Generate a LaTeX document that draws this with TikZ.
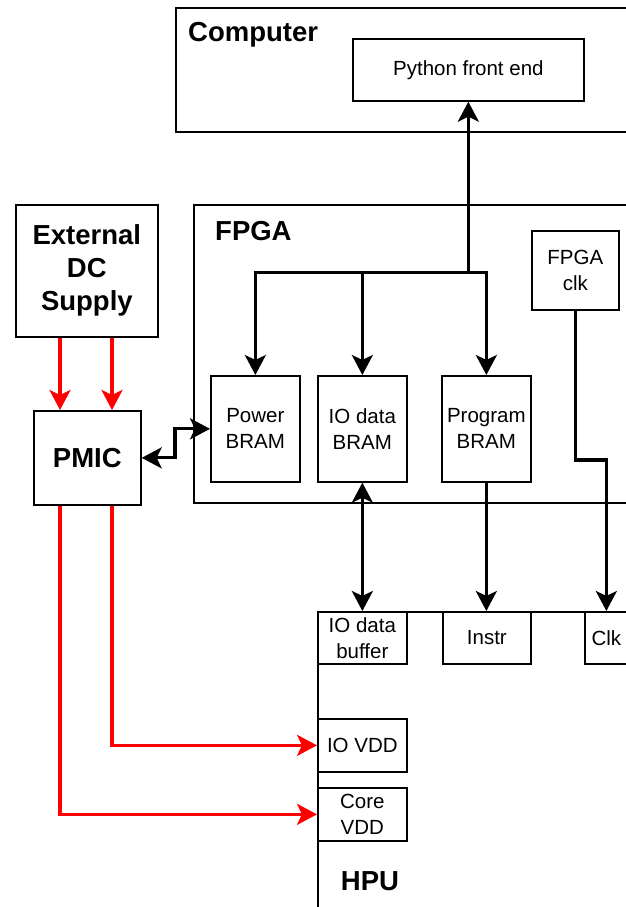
\documentclass[tikz,border=0pt]{standalone}
\usepackage{fontspec}
\setmainfont{Liberation Sans}
\usetikzlibrary{arrows.meta}
\tikzset{
  blk/.style={draw, line width=1.7pt, inner sep=0pt, align=center, anchor=north west,
    font=\fontsize{20.5}{26}\selectfont},
  title/.style={inner sep=0pt, font=\bfseries\fontsize{27.5}{33}\selectfont, align=center},
  arr/.style={line width=3.2pt, -{Stealth[length=20pt,width=21pt,inset=5pt]}},
  darr/.style={line width=3.2pt, {Stealth[length=20pt,width=21pt,inset=5pt]}-{Stealth[length=20pt,width=21pt,inset=5pt]}},
  rarr/.style={line width=3.2pt, color=red, -{Stealth[length=20pt,width=21pt,inset=5pt]}},
}
\begin{document}
\begin{tikzpicture}[x=1pt,y=-1pt]
\clip (0,0) rectangle (626,907);
\fill[white] (0,0) rectangle (626,907);

% containers
\node[blk, minimum width=500pt, minimum height=124pt] (computer) at (175,7) {};
\node[title, anchor=base west] (computerlbl) at (188,42) {Computer};
\node[blk, minimum width=480pt, minimum height=298pt] (fpga) at (193,204) {};
\node[title, anchor=base west] (fpgalbl) at (215,240) {FPGA};
\node[blk, minimum width=400pt, minimum height=400pt] (hpu) at (317,611) {};
\node[title] (hpulbl) at (370,881) {HPU};

% computer side
\node[blk, minimum width=231pt, minimum height=62pt] (py) at (352,38) {Python front end};

% FPGA blocks
\node[blk, minimum width=87pt, minimum height=79pt] (fclk) at (531,230) {FPGA\\clk};
\node[blk, minimum width=89pt, minimum height=106pt] (pb) at (210,375) {Power\\BRAM};
\node[blk, minimum width=89pt, minimum height=106pt] (iob) at (317,375) {IO data\\BRAM};
\node[blk, minimum width=89pt, minimum height=106pt] (prb) at (441,375) {Program\\BRAM};

% HPU blocks
\node[blk, minimum width=89pt, minimum height=52pt] (iobuf) at (317,611) {IO data\\buffer};
\node[blk, minimum width=88pt, minimum height=52pt] (instr) at (442,611) {Instr};
\node[blk, minimum width=43pt, minimum height=52pt] (clk) at (584,611) {Clk};
\node[blk, minimum width=89pt, minimum height=53pt] (iovdd) at (317,718) {IO VDD};
\node[blk, minimum width=89pt, minimum height=53pt] (corevdd) at (317,787) {Core\\VDD};

% supply side
\node[blk, minimum width=142pt, minimum height=132pt,
  font=\bfseries\fontsize{27.5}{33}\selectfont] (ext) at (15,204) {External\\DC\\Supply};
\node[blk, minimum width=107pt, minimum height=94pt,
  font=\bfseries\fontsize{27.5}{33}\selectfont] (pmic) at (33,410) {PMIC};

% routing points
\path (py.south) ++(0,171) coordinate (j);
\coordinate (k) at (175,0);
\coordinate (b) at (0,460);
\coordinate (ra) at (60,0);
\coordinate (rb) at (112,0);

% data connectors
\draw[arr] (j) -- (py.south);
\draw[arr] (j) -| (pb.north);
\draw[arr] (j) -| (iob.north);
\draw[arr] (j) -| (prb.north);
\draw[darr] (pmic.east) -- (pmic.east -| k) -- (pb.west -| k) -- (pb.west);
\draw[darr] (iob.south) -- (iobuf.north);
\draw[arr] (prb.south) -- (prb.south |- instr.north);
\draw[arr] (fclk.south) -- (fclk.south |- b) -- (clk.north |- b) -- (clk.north);

% power connectors
\draw[rarr] (ext.south -| ra) -- (pmic.north -| ra);
\draw[rarr] (ext.south -| rb) -- (pmic.north -| rb);
\draw[rarr] (pmic.south -| rb) |- (iovdd.west);
\draw[rarr] (pmic.south -| ra) |- (corevdd.west);
\end{tikzpicture}
\end{document}
